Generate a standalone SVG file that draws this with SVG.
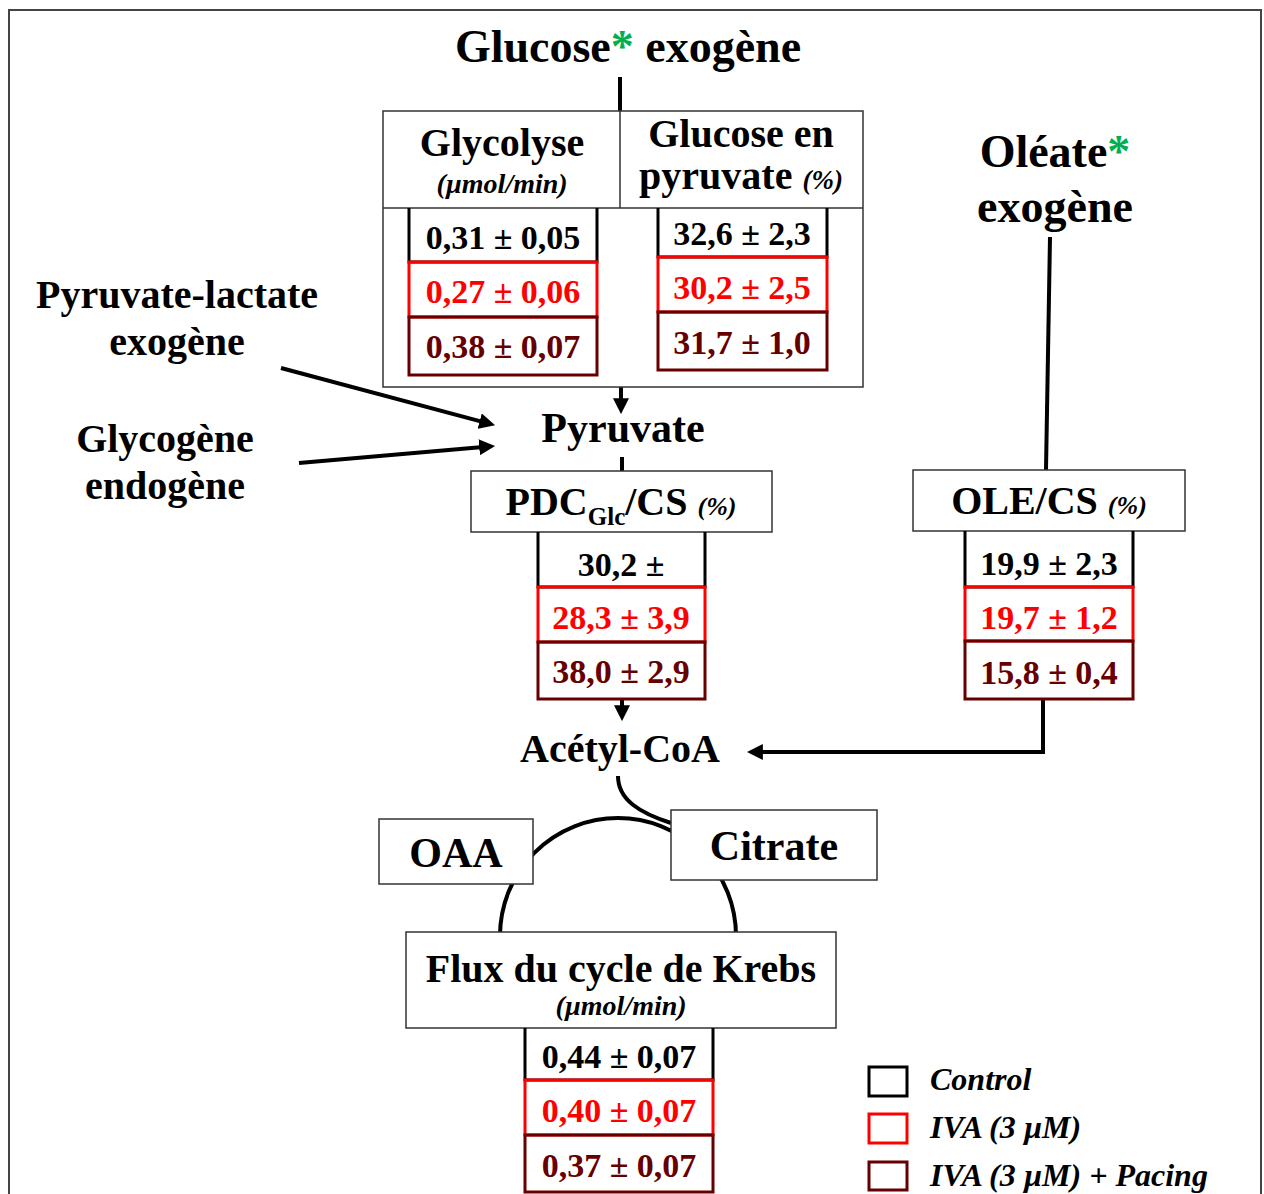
<svg xmlns="http://www.w3.org/2000/svg" width="1264" height="1194" viewBox="0 0 1264 1194">
<style>
text{font-family:"Liberation Serif","Times New Roman",serif;font-weight:bold;fill:#000}
.mid{text-anchor:middle}
.it{font-style:italic}
.t46{font-size:46px}
.t40{font-size:40px}
.t42{font-size:42px}
.v{font-size:34px;text-anchor:middle}
.red{fill:#ff0000}
.dr{fill:#660000}
.hdr{fill:#fff;stroke:#333;stroke-width:1.5}
.bk{fill:none;stroke:#000;stroke-width:3}
.rb{fill:none;stroke:#ff0000;stroke-width:3}
.db{fill:none;stroke:#660000;stroke-width:3}
.ln{fill:none;stroke:#000;stroke-width:4}
.green{fill:#00b050}
</style>
<defs>
<marker id="ah" markerUnits="userSpaceOnUse" markerWidth="16" markerHeight="16" viewBox="0 0 14 14" refX="6" refY="7" orient="auto">
<path d="M0,0 L14,7 L0,14 z" fill="#000"/>
</marker>
</defs>
<rect width="1264" height="1194" fill="#fff"/>
<path d="M9,1194 V10 H1261 V1194" fill="none" stroke="#444" stroke-width="2"/>

<g id="connectors">
<path class="ln" d="M620,77 V111"/>
<path class="ln" d="M621,387 V405" marker-end="url(#ah)"/>
<path class="ln" d="M622,457 V471"/>
<path class="ln" d="M281,368 L486.3,422.9" marker-end="url(#ah)"/>
<path class="ln" d="M299,463 L486,446.7" marker-end="url(#ah)"/>
<path class="ln" d="M622,699 V712" marker-end="url(#ah)"/>
<path class="ln" d="M1050,237 L1046,470"/>
<path class="ln" d="M1043,700 V752 H756" marker-end="url(#ah)"/>
<path class="ln" d="M618,776 C618,800 640,813 671,823"/>
<path class="ln" d="M500,936 A118,118 0 1 1 736,936"/>
</g>

<g id="title-glucose">
<text class="t46 mid" x="628" y="62">Glucose<tspan class="green">*</tspan> exogène</text>
</g>

<g id="table-glycolyse">
<rect class="hdr" x="383" y="111" width="480" height="276"/>
<path d="M383,208 H863 M620,111 V208" stroke="#333" stroke-width="1.5" fill="none"/>
<text class="t40 mid" x="502" y="156">Glycolyse</text>
<text class="it mid" font-size="28" x="502" y="193">(µmol/min)</text>
<text class="t40 mid" x="741" y="147">Glucose en</text>
<text class="t40 mid" x="741" y="189">pyruvate <tspan class="it" font-size="27">(%)</tspan></text>
<path class="bk" d="M409,208 V262 H597 V208"/>
<rect class="rb" x="409" y="262" width="188" height="55"/>
<rect class="db" x="409" y="317" width="188" height="58"/>
<text class="v" x="503" y="249">0,31 ± 0,05</text>
<text class="v red" x="503" y="303">0,27 ± 0,06</text>
<text class="v dr" x="503" y="358">0,38 ± 0,07</text>
<path class="bk" d="M658,208 V257 H827 V208"/>
<rect class="rb" x="658" y="257" width="169" height="55"/>
<rect class="db" x="658" y="312" width="169" height="58"/>
<text class="v" x="742" y="245">32,6 ± 2,3</text>
<text class="v red" x="742" y="299">30,2 ± 2,5</text>
<text class="v dr" x="742" y="354">31,7 ± 1,0</text>
</g>

<g id="pyruvate-lactate">
<text class="t40 mid" x="177" y="308">Pyruvate-lactate</text>
<text class="t40 mid" x="177" y="355">exogène</text>
</g>
<g id="glycogene">
<text class="t40 mid" x="165" y="452">Glycogène</text>
<text class="t40 mid" x="165" y="499">endogène</text>
</g>

<g id="pyruvate">
<text class="t42 mid" x="623" y="442">Pyruvate</text>
</g>

<g id="pdc">
<rect class="hdr" x="471" y="471" width="301" height="61"/>
<text class="t40 mid" x="621" y="515">PDC<tspan font-size="25" dy="10">Glc</tspan><tspan dy="-10">/CS </tspan><tspan class="it" font-size="26">(%)</tspan></text>
<path class="bk" d="M538,532 V587 H705 V532"/>
<rect class="rb" x="538" y="587" width="167" height="55"/>
<rect class="db" x="538" y="642" width="167" height="57"/>
<text class="v" x="621" y="576">30,2 ±</text>
<text class="v red" x="621" y="629">28,3 ± 3,9</text>
<text class="v dr" x="621" y="683">38,0 ± 2,9</text>
</g>

<g id="oleate">
<text class="t46 mid" x="1055" y="167">Oléate<tspan class="green">*</tspan></text>
<text class="t46 mid" x="1055" y="222">exogène</text>
</g>

<g id="ole">
<rect class="hdr" x="913" y="470" width="272" height="61"/>
<text class="t40 mid" x="1049" y="514">OLE/CS <tspan class="it" font-size="26">(%)</tspan></text>
<path class="bk" d="M965,531 V587 H1133 V531"/>
<rect class="rb" x="965" y="587" width="168" height="54"/>
<rect class="db" x="965" y="641" width="168" height="58"/>
<text class="v" x="1049" y="575">19,9 ± 2,3</text>
<text class="v red" x="1049" y="629">19,7 ± 1,2</text>
<text class="v dr" x="1049" y="684">15,8 ± 0,4</text>
</g>

<g id="acetyl-coa">
<text class="t40 mid" x="620" y="762">Acétyl-CoA</text>
</g>

<g id="oaa">
<rect class="hdr" x="379" y="819" width="154" height="65"/>
<text class="t42 mid" x="456" y="867">OAA</text>
</g>
<g id="citrate">
<rect class="hdr" x="671" y="810" width="206" height="70"/>
<text class="t42 mid" x="774" y="860">Citrate</text>
</g>

<g id="krebs">
<rect class="hdr" x="406" y="932" width="430" height="96"/>
<text class="t40 mid" x="621" y="982">Flux du cycle de Krebs</text>
<text class="it mid" font-size="28" x="621" y="1015">(µmol/min)</text>
<path class="bk" d="M525,1028 V1080 H713 V1028"/>
<rect class="rb" x="525" y="1080" width="188" height="55"/>
<rect class="db" x="525" y="1135" width="188" height="57"/>
<text class="v" x="619" y="1068">0,44 ± 0,07</text>
<text class="v red" x="619" y="1122">0,40 ± 0,07</text>
<text class="v dr" x="619" y="1177">0,37 ± 0,07</text>
</g>

<g id="legend">
<rect class="bk" x="869" y="1067" width="38" height="29"/>
<rect class="rb" x="869" y="1114" width="38" height="29"/>
<rect class="db" x="869" y="1162" width="38" height="28"/>
<text class="it" font-size="32" x="930" y="1090">Control</text>
<text class="it" font-size="32" x="930" y="1138">IVA (3 µM)</text>
<text class="it" font-size="32" x="930" y="1186">IVA (3 µM) + Pacing</text>
</g>
</svg>
